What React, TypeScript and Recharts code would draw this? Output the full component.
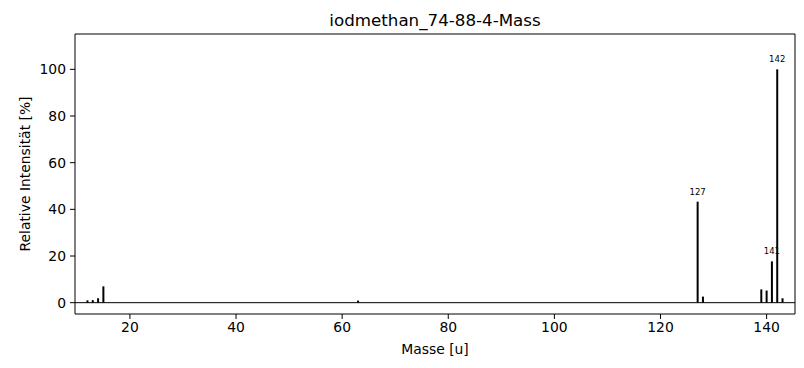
import React from 'react';
import { ComposedChart, XAxis, YAxis, ReferenceLine, ReferenceDot, Scatter } from 'recharts';

const masses = [12, 13, 14, 15, 63, 127, 128, 139, 140, 141, 142, 143];
const intensities = [1.0, 1.1, 1.9, 7.0, 0.9, 43.3, 2.6, 5.7, 5.2, 17.7, 100, 1.9];
const labeledMasses = [127, 141, 142];
const xTicks = [20, 40, 60, 80, 100, 120, 140];
const yTicks = [0, 20, 40, 60, 80, 100];
const xDomain: [number, number] = [9.65, 145.35];
const yDomain: [number, number] = [-4.85, 115.15];
const title = 'iodmethan_74-88-4-Mass';
const xLabel = 'Masse [u]';
const yLabel = 'Relative Intensität [%]';

const data = masses.map((m, i) => ({ m, v: intensities[i] }));
const FONT = 'DejaVu Sans, sans-serif';
const tickStyle = { fontSize: 13.9, fill: '#000', fontFamily: FONT };

export default function App() {
  return (
    <div style={{ position: 'absolute', left: 0, top: 0, width: 804, height: 368, background: '#fff' }}>
      <div
        style={{
          position: 'absolute',
          left: 75,
          width: 720,
          top: 10,
          lineHeight: '20px',
          textAlign: 'center',
          fontFamily: FONT,
          fontSize: 16.7,
          color: '#000',
        }}
      >
        {title}
      </div>
      <ComposedChart
        width={804}
        height={368}
        data={data}
        margin={{ top: 34, right: 9, bottom: 0, left: 20 }}
      >
        <XAxis
          dataKey="m"
          type="number"
          domain={xDomain}
          ticks={xTicks}
          allowDataOverflow
          height={54}
          tickSize={5}
          tickMargin={3}
          tick={tickStyle}
          stroke="#000"
          axisLine={{ stroke: '#000' }}
          tickLine={{ stroke: '#000' }}
          label={{ value: xLabel, position: 'insideBottom', offset: 14, fill: '#000', fontSize: 13.9, fontFamily: FONT }}
        />
        <YAxis
          type="number"
          domain={yDomain}
          ticks={yTicks}
          allowDataOverflow
          width={55}
          tickSize={5}
          tickMargin={4}
          tick={tickStyle}
          axisLine={{ stroke: '#000' }}
          tickLine={{ stroke: '#000' }}
          label={{
            value: yLabel,
            angle: -90,
            position: 'insideLeft',
            offset: 5,
            fill: '#000',
            fontSize: 13.9,
            fontFamily: FONT,
            style: { textAnchor: 'middle' },
          }}
        />
        {data
          .filter((d) => labeledMasses.includes(d.m))
          .map((d) => (
            <ReferenceDot
              key={'l' + d.m}
              x={d.m}
              y={d.v}
              r={0}
              fill="none"
              stroke="none"
              label={{ value: String(d.m), position: 'top', offset: 7, fill: '#000', fontSize: 8.5, fontFamily: FONT }}
            />
          ))}
        <ReferenceLine x={xDomain[1]} stroke="#000" strokeWidth={1} />
        <ReferenceLine y={yDomain[1]} stroke="#000" strokeWidth={1} />
        <ReferenceLine y={0} stroke="#000" strokeWidth={1} />
        {data.map((d) => (
          <ReferenceLine
            key={'s' + d.m}
            segment={[
              { x: d.m, y: 0 },
              { x: d.m, y: d.v },
            ]}
            stroke="#000"
            strokeWidth={2}
          />
        ))}
        <Scatter dataKey="v" isAnimationActive={false} shape={() => null} />
      </ComposedChart>
    </div>
  );
}
